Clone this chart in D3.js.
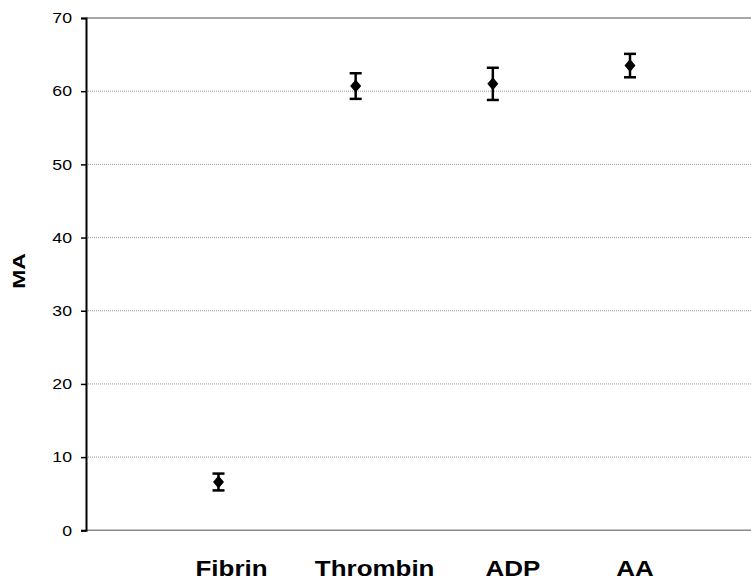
<!DOCTYPE html>
<html>
<head>
<meta charset="utf-8">
<script src="https://cdn.jsdelivr.net/npm/d3@7"></script>
<style>
  html, body { margin: 0; padding: 0; background: #fff; }
  svg { display: block; font-family: "Liberation Sans", Arial, sans-serif; }
</style>
</head>
<body>
<svg id="chart" width="751" height="580"></svg>
<script>
// Maximum amplitude (MA) by agonist, mean with error bars
const categories = ["Fibrin", "Thrombin", "ADP", "AA"];
const meanMA = [6.6, 60.7, 61.0, 63.5];
const errMA = [1.15, 1.75, 2.2, 1.6];
const yTicks = [0, 10, 20, 30, 40, 50, 60, 70];

const svg = d3.select("#chart");
const W = 751, H = 580;
const plotLeft = 86, plotTop = 18, plotBottom = 530.3;
const stretch = 1.18; // horizontal text widening

const y = d3.scaleLinear().domain([0, 70]).range([plotBottom, plotTop]);
const x = d3.scalePoint().domain(categories).range([218.5, 630]);

// gridlines
const grid = svg.append("g");
grid.selectAll("line")
  .data(yTicks.filter(t => t > 0 && t < 70))
  .join("line")
  .attr("x1", plotLeft).attr("x2", W)
  .attr("y1", d => y(d)).attr("y2", d => y(d))
  .attr("stroke", "#9a9a9a").attr("stroke-width", 1)
  .attr("stroke-dasharray", "1,1");

// plot frame top and bottom
[0, 70].forEach(v => {
  svg.append("line")
    .attr("x1", plotLeft).attr("x2", W)
    .attr("y1", y(v)).attr("y2", y(v))
    .attr("stroke", "#8a8a8a").attr("stroke-width", 1.6);
});

// y axis
const yAxis = d3.axisLeft(y).tickValues(yTicks).tickSize(5).tickPadding(9);
const ga = svg.append("g").attr("transform", `translate(${plotLeft},0)`).call(yAxis);
ga.select(".domain").attr("stroke", "#000").attr("stroke-width", 2);
ga.selectAll(".tick line").attr("stroke", "#000").attr("stroke-width", 1.5);
ga.selectAll(".tick text")
  .attr("font-size", 15).attr("font-family", "Liberation Sans, Arial, sans-serif")
  .attr("fill", "#000")
  .each(function() {
    const t = d3.select(this);
    const xx = +t.attr("x");
    t.attr("x", xx / stretch).attr("transform", `scale(${stretch},1)`);
  });

// error bars
const pts = categories.map((c, i) => ({ c, m: meanMA[i], e: errMA[i] }));
const eb = svg.append("g");
eb.selectAll("line.stem").data(pts).join("line").attr("class", "stem")
  .attr("x1", d => x(d.c)).attr("x2", d => x(d.c))
  .attr("y1", d => y(d.m + d.e)).attr("y2", d => y(d.m - d.e))
  .attr("stroke", "#000").attr("stroke-width", 2.5);
["top", "bot"].forEach(k => {
  eb.selectAll("line.cap-" + k).data(pts).join("line").attr("class", "cap-" + k)
    .attr("x1", d => x(d.c) - 6).attr("x2", d => x(d.c) + 6)
    .attr("y1", d => y(k === "top" ? d.m + d.e : d.m - d.e))
    .attr("y2", d => y(k === "top" ? d.m + d.e : d.m - d.e))
    .attr("stroke", "#000").attr("stroke-width", 2.5);
});

// diamond markers
const diamond = "M0,-6.5L5.5,0L0,6.5L-5.5,0Z";
svg.append("g").selectAll("path").data(pts).join("path")
  .attr("d", diamond)
  .attr("transform", d => `translate(${x(d.c)},${y(d.m)})`)
  .attr("fill", "#000");

// category labels
const labelShift = [13, 19, 20, 5];
svg.append("g").selectAll("text").data(categories).join("text")
  .attr("transform", (d, i) => `translate(${x(d) + labelShift[i]},576) scale(${stretch},1)`)
  .attr("text-anchor", "middle")
  .attr("font-size", 22).attr("font-weight", "bold")
  .attr("fill", "#000")
  .text(d => d);

// y axis title
svg.append("text")
  .attr("transform", "translate(25,271) rotate(-90) scale(1.35,1)")
  .attr("text-anchor", "middle")
  .attr("font-size", 17).attr("font-weight", "bold")
  .attr("fill", "#000")
  .text("MA");
</script>
</body>
</html>
